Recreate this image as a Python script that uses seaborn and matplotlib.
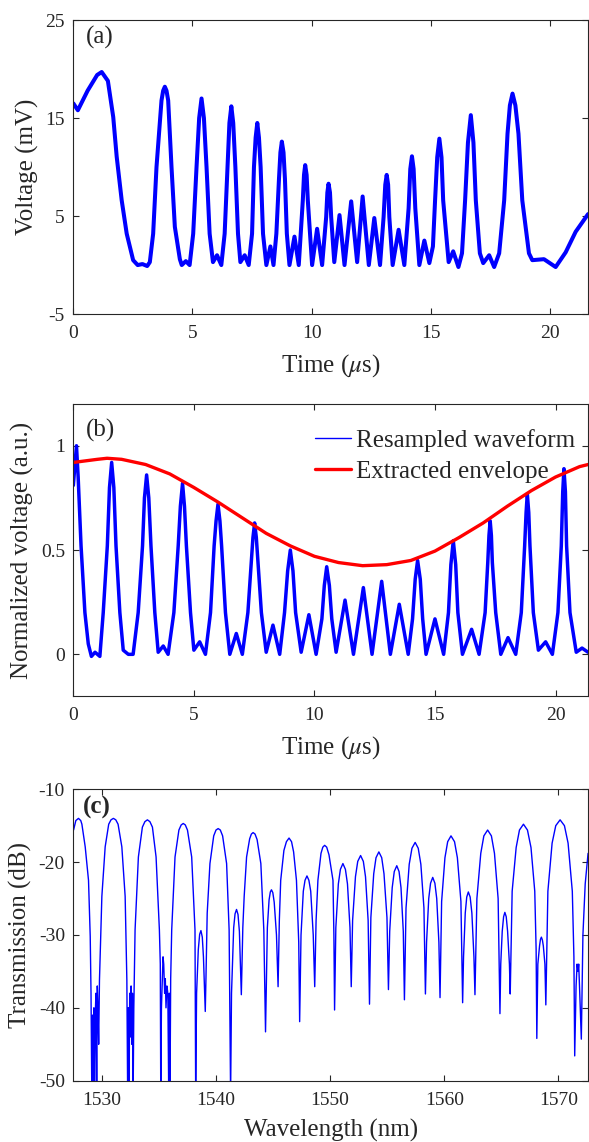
import numpy as np
import pandas as pd
import matplotlib
matplotlib.use("Agg")
import matplotlib.pyplot as plt
import seaborn as sns

# (a) raw waveform
t_a = [0.0, 0.19, 0.6, 1.0, 1.19, 1.45, 1.675, 1.82, 2.03, 2.24, 2.51, 2.7, 2.9, 3.1, 3.21,
       3.35, 3.49, 3.70, 3.84, 3.98, 4.12, 4.26, 4.47, 4.55, 4.72, 4.88, 5.03, 5.17, 5.38,
       5.59, 5.72, 5.86, 6.03, 6.21, 6.35, 6.47, 6.63, 6.80, 6.91, 7.01, 7.19, 7.36, 7.50,
       7.58, 7.72, 7.86, 7.96, 8.10, 8.27, 8.40, 8.52, 8.63, 8.75, 8.88, 8.96, 9.07, 9.28,
       9.46, 9.63, 9.73, 9.84, 10.02, 10.23, 10.44, 10.61, 10.71, 10.82, 10.95, 11.17, 11.38,
       11.66, 11.91, 12.14, 12.40, 12.63, 12.87, 13.02, 13.15, 13.26, 13.40, 13.65, 13.89,
       14.07, 14.21, 14.35, 14.52, 14.73, 14.94, 15.09, 15.18, 15.36, 15.52, 15.75, 15.94,
       16.16, 16.31, 16.44, 16.68, 16.89, 17.06, 17.20, 17.45, 17.66, 17.87, 18.08, 18.22,
       18.43, 18.68, 18.84, 19.12, 19.26, 19.75, 20.24, 20.66, 21.08, 21.6]
v_a = [16.5, 15.8, 17.8, 19.4, 19.7, 18.8, 15.1, 11.05, 6.6, 3.2, 0.5, 0.0, 0.1, -0.1, 0.3,
       3.2, 10.0, 16.8, 18.2, 16.8, 10.0, 3.9, 0.6, 0.0, 0.4, 0.0, 3.2, 10.0, 17.0,
       10.0, 3.2, 0.3, 1.0, 0.0, 3.2, 10.0, 16.2, 10.0, 3.2, 0.3, 1.0, 0.0, 3.2,
       10.0, 14.5, 10.0, 3.2, 0.0, 1.9, 0.0, 3.2, 8.8, 12.6, 8.8, 3.2, 0.0, 2.9,
       0.0, 6.6, 10.2, 6.6, 0.0, 3.7, 0.0, 4.9, 8.3, 4.9, 0.3, 5.1, 0.0,
       6.5, 0.3, 7.0, 0.0, 4.8, 0.0, 4.9, 9.2, 4.9, 0.0, 3.6, 0.0,
       5.8, 11.1, 5.8, 0.0, 2.5, 0.2, 1.9, 6.6, 12.9, 6.6, 0.3, 1.4,
       -0.2, 1.2, 6.6, 15.3, 6.6, 1.2, 0.2, 1.0, -0.2, 1.2, 6.6, 13.4,
       17.5, 13.4, 6.6, 1.2, 0.5, 0.6, -0.2, 1.3, 3.4, 5.2]
# extra points near the tops of the peaks
t_a_top = [3.77, 3.91, 5.28, 5.48, 6.55, 6.71, 7.65, 7.79, 8.69, 8.82, 9.68, 9.79,
           10.66, 10.77, 13.09, 13.21, 14.14, 14.28, 15.27, 15.45, 16.56, 16.79, 18.32, 18.55]
v_a_top = [17.8, 17.8, 15.0, 15.0, 14.5, 14.5, 13.0, 13.0, 11.5, 11.5, 9.2, 9.2,
           7.4, 7.4, 8.2, 8.2, 9.8, 9.8, 11.0, 11.0, 12.5, 12.5, 16.3, 16.3]

# (b) resampled waveform + envelope
t_b = [0.0, 0.13, 0.32, 0.48, 0.62, 0.75, 0.9, 1.1, 1.24, 1.41, 1.59, 1.77, 1.93, 2.07, 2.28,
       2.48, 2.69, 2.87, 3.04, 3.22, 3.38, 3.52, 3.73, 3.93, 4.17, 4.35, 4.53, 4.69, 4.86,
       5.0, 5.24, 5.48, 5.69, 5.84, 6.0, 6.15, 6.31, 6.49, 6.76, 7.01, 7.24, 7.38, 7.52,
       7.66, 7.80, 8.0, 8.28, 8.56, 8.76, 9.0, 9.22, 9.45, 9.77, 10.07, 10.31, 10.51, 10.72,
       10.9, 11.27, 11.62, 12.03, 12.39, 12.79, 13.15, 13.52, 13.89, 14.07, 14.28, 14.49,
       14.63, 15.0, 15.36, 15.56, 15.76, 15.95, 16.14, 16.52, 16.83, 17.08, 17.19, 17.29,
       17.38, 17.52, 17.73, 18.03, 18.35, 18.58, 18.72, 18.83, 18.94, 19.08, 19.29, 19.59,
       19.87, 20.1, 20.24, 20.35, 20.46, 20.6, 20.86, 21.1, 21.35]
v_b = [0.81, 1.0, 0.52, 0.2, 0.05, -0.01, 0.01, -0.01, 0.2, 0.52, 0.92, 0.52, 0.2, 0.02, 0.0,
       0.0, 0.2, 0.52, 0.86, 0.52, 0.2, 0.01, 0.04, 0.0, 0.2, 0.52, 0.82, 0.52, 0.2,
       0.02, 0.06, 0.0, 0.2, 0.52, 0.72, 0.52, 0.2, 0.0, 0.10, 0.0, 0.2, 0.44, 0.63,
       0.44, 0.2, 0.01, 0.14, 0.0, 0.2, 0.50, 0.2, 0.01, 0.19, 0.0, 0.17, 0.42, 0.17,
       0.01, 0.26, 0.0, 0.32, 0.0, 0.35, 0.0, 0.24, 0.0, 0.17, 0.45, 0.17,
       0.0, 0.17, 0.0, 0.2, 0.545, 0.2, 0.0, 0.12, 0.0, 0.2, 0.44, 0.64,
       0.44, 0.2, 0.0, 0.08, 0.0, 0.2, 0.52, 0.77, 0.52, 0.2, 0.02, 0.06,
       0.0, 0.2, 0.52, 0.89, 0.52, 0.2, 0.01, 0.03, 0.01]
t_b_top = [0.2, 1.50, 1.68, 2.95, 3.13, 4.44, 4.61, 5.92, 6.08, 7.45, 7.59, 8.89, 9.11,
           10.41, 10.62, 14.18, 14.39, 15.66, 15.86, 17.24, 17.34, 18.78, 18.89, 20.3, 20.41]
v_b_top = [0.85, 0.8, 0.8, 0.75, 0.75, 0.71, 0.71, 0.64, 0.64, 0.56, 0.56, 0.40, 0.40,
           0.33, 0.33, 0.36, 0.36, 0.43, 0.43, 0.57, 0.57, 0.68, 0.68, 0.78, 0.78]
t_env = [0, 1, 1.4, 2, 3, 4, 5, 6, 7, 8, 9, 10, 11, 12, 13, 14, 15, 16, 17, 18, 19, 20, 21, 21.35]
v_env = [0.92, 0.935, 0.94, 0.935, 0.91, 0.865, 0.80, 0.73, 0.655, 0.58, 0.52, 0.47, 0.44,
         0.425, 0.43, 0.45, 0.495, 0.56, 0.63, 0.71, 0.785, 0.85, 0.90, 0.91]

# (c) transmission spectrum
wl = [1527.52, 1527.95, 1528.25, 1528.54, 1528.83, 1528.98,
      1529.05, 1529.12, 1529.18, 1529.25, 1529.3, 1529.36, 1529.42, 1529.48, 1529.55, 1529.6, 1529.66, 1529.72,
      1529.79, 1530.0, 1530.29, 1530.6, 1531.01, 1531.42, 1531.75, 1532.04, 1532.19,
      1532.26, 1532.32, 1532.38, 1532.44, 1532.5, 1532.56, 1532.62, 1532.68, 1532.74, 1532.8,
      1532.91, 1533.2, 1533.55, 1533.99, 1534.43, 1534.75, 1535.04,
      1535.12, 1535.16, 1535.22, 1535.3, 1535.36, 1535.42, 1535.5, 1535.56, 1535.62, 1535.7,
      1535.78, 1535.86, 1535.92, 1535.97, 1536.03,
      1536.12, 1536.41, 1536.75, 1537.13, 1537.5, 1537.87, 1538.16, 1538.22,
      1538.3, 1538.45, 1538.68, 1538.9, 1539.06,
      1539.12, 1539.23, 1539.47, 1539.8, 1540.19, 1540.58, 1540.93, 1541.15, 1541.28,
      1541.36, 1541.55, 1541.8, 1542.05, 1542.22,
      1542.35, 1542.47, 1542.68, 1542.95, 1543.25, 1543.6, 1543.93, 1544.19, 1544.34,
      1544.5, 1544.65, 1544.86, 1545.1, 1545.3, 1545.44,
      1545.55, 1545.67, 1545.95, 1546.4, 1546.8, 1547.05, 1547.25, 1547.33,
      1547.45, 1547.65, 1547.97, 1548.3, 1548.52, 1548.65,
      1548.77, 1548.93, 1549.2, 1549.52, 1549.9, 1550.25, 1550.33, 1550.39,
      1550.5, 1550.72, 1551.12, 1551.52, 1551.74, 1551.85,
      1551.97, 1552.22, 1552.67, 1553.1, 1553.33, 1553.45,
      1553.57, 1553.82, 1554.27, 1554.72, 1554.98, 1555.11,
      1555.22, 1555.44, 1555.84, 1556.21, 1556.41, 1556.51,
      1556.65, 1556.93, 1557.17, 1557.45, 1557.72, 1557.95, 1558.22, 1558.35,
      1558.45, 1558.64, 1558.99, 1559.34, 1559.53, 1559.63,
      1559.77, 1560.06, 1560.3, 1560.59, 1560.9, 1561.15, 1561.46, 1561.61,
      1561.69, 1561.84, 1562.11, 1562.42, 1562.6, 1562.69,
      1562.86, 1563.2, 1563.47, 1563.8, 1564.13, 1564.4, 1564.72, 1564.88,
      1564.95, 1565.08, 1565.31, 1565.55, 1565.71, 1565.78,
      1565.95, 1566.3, 1566.59, 1566.94, 1567.29, 1567.6, 1567.93, 1568.05, 1568.11,
      1568.2, 1568.35, 1568.51, 1568.68, 1568.82, 1568.9,
      1569.08, 1569.45, 1569.77, 1570.15, 1570.53, 1570.85, 1571.22, 1571.36, 1571.43,
      1571.55, 1571.64, 1571.72, 1571.78, 1571.85, 1572.01,
      1572.15, 1572.35, 1572.6]
trans_db = [-15.6, -14.0, -14.8, -17.9, -22.5, -30.2,
            -38, -52, -41, -52, -40, -52, -41, -38, -52, -37, -40, -45,
            -36.2, -24.7, -17.9, -14.8, -14.0, -14.8, -17.9, -24.7, -36.2,
            -52, -40, -52, -38, -44, -37, -45, -38, -52, -40,
            -29.3, -19.3, -15.2, -14.2, -15.2, -19.3, -29.3,
            -34, -52, -40, -36, -33, -34, -38, -36, -40, -37,
            -38, -52, -38, -52, -36,
            -29.3, -19.3, -15.6, -14.7, -15.6, -19.3, -29.3, -52,
            -38, -32, -29.4, -33, -40.5,
            -36, -27, -20.2, -16.4, -15.4, -16.4, -20.2, -29.3, -52,
            -38, -29, -26.5, -29.5, -38.2,
            -29, -24.7, -19.3, -16.8, -15.95, -16.9, -20.2, -29.3, -43.3,
            -29, -25.2, -23.8, -25.5, -30, -37.1,
            -28, -22.5, -18.4, -16.7, -18.6, -22.5, -31, -41.9,
            -30, -24, -21.9, -24, -30, -37.1,
            -28, -22.5, -18.8, -17.7, -19, -22.5, -30, -40.3,
            -29, -23, -20.2, -23, -29, -37.1,
            -28, -22, -19.1, -22, -28, -39.5,
            -27.6, -21.6, -18.6, -21.6, -27.6, -37.5,
            -29.5, -23.5, -20.5, -23.5, -29.5, -38.9,
            -26.3, -20.3, -18.1, -17.3, -18.1, -20.3, -26.3, -38.1,
            -31, -25, -22.1, -25, -31, -38.6,
            -25.4, -19.4, -17.2, -16.4, -17.2, -19.4, -25.4, -39.3,
            -33, -27, -24.1, -27, -33, -38.2,
            -25, -18.8, -16.4, -15.6, -16.4, -18.8, -25, -40.8,
            -34, -29.5, -26.9, -29.5, -34, -38.1,
            -24, -18, -15.6, -14.8, -15.6, -18, -24, -32, -44.2,
            -34, -31.5, -30.3, -31.5, -34, -39.6,
            -24, -17.4, -15.0, -14.2, -15.0, -17.4, -24, -33, -46.6,
            -37, -34, -35, -34, -37, -44.3,
            -30, -23, -18.8]
# extra points near the lobe tops
wl_top = [1527.72, 1528.15, 1530.8, 1531.22, 1533.77, 1534.21, 1536.95, 1537.31,
          1540.0, 1540.38, 1543.1, 1543.42, 1546.17, 1546.62, 1549.36, 1549.7,
          1538.57, 1538.8, 1541.67, 1541.93, 1544.76, 1544.98, 1547.8, 1548.14,
          1550.9, 1551.34, 1552.42, 1552.91, 1554.02, 1554.52, 1555.62, 1556.04,
          1558.8, 1559.18, 1561.97, 1562.27, 1565.2, 1565.43, 1568.43, 1568.6]
db_top = [-14.3, -14.3, -14.2, -14.2, -14.45, -14.45, -14.9, -14.9,
          -15.6, -15.6, -16.15, -16.15, -17.2, -17.2, -17.95, -17.95,
          -29.9, -30.3, -27.1, -27.2, -24.1, -24.2, -22.5, -22.5,
          -21.0, -21.0, -19.9, -19.9, -19.4, -19.4, -21.3, -21.3,
          -22.9, -22.9, -24.8, -24.8, -27.5, -27.5, -30.6, -30.7]


def merged(x, y, x2, y2, xn, yn):
    df = pd.concat([pd.DataFrame({xn: x, yn: y}), pd.DataFrame({xn: x2, yn: y2})])
    return df.sort_values(xn).reset_index(drop=True)


df_a = merged(t_a, v_a, t_a_top, v_a_top, "time", "voltage")
df_b = merged(t_b, v_b, t_b_top, v_b_top, "time", "norm")
df_c = merged(wl, trans_db, wl_top, db_top, "wavelength", "trans")

sns.set_theme(style="ticks")
plt.rcParams["font.family"] = ["Liberation Serif", "DejaVu Serif"]
plt.rcParams["mathtext.fontset"] = "stix"
plt.rcParams["axes.unicode_minus"] = False
plt.rcParams["xtick.direction"] = "in"
plt.rcParams["ytick.direction"] = "in"
plt.rcParams["xtick.top"] = True
plt.rcParams["ytick.right"] = True

BLUE = "#0000ff"
RED = "#ff0000"
TICK_FS = 14
LAB_FS = 18

fig = plt.figure(figsize=(5.89, 11.42), dpi=100)
left, width = 0.1245, 0.8739
ax1 = fig.add_axes([left, 0.7250, width, 0.2574])
ax2 = fig.add_axes([left, 0.3905, width, 0.2557])
ax3 = fig.add_axes([left, 0.0537, width, 0.2552])

# (a)
sns.lineplot(data=df_a, x="time", y="voltage", ax=ax1, color=BLUE, lw=2.9,
             sort=False, estimator=None, solid_joinstyle="round")
ax1.set_xlim(0, 21.6)
ax1.set_ylim(-5, 25)
ax1.set_yticks([-5, 5, 15, 25])
ax1.set_xticks([0, 5, 10, 15, 20])
ax1.set_xlabel(r"Time ($\mu$s)", fontsize=LAB_FS)
ax1.set_ylabel("Voltage (mV)", fontsize=LAB_FS)
ax1.text(0.025, 0.94, "(a)", transform=ax1.transAxes, fontsize=LAB_FS, va="center")

# (b)
sns.lineplot(data=df_b, x="time", y="norm", ax=ax2, color=BLUE, lw=2.5, sort=False,
             estimator=None, solid_joinstyle="round", label="Resampled waveform")
sns.lineplot(x=t_env, y=v_env, ax=ax2, color=RED, lw=2.4, sort=False, estimator=None,
             label="Extracted envelope")
ax2.set_xlim(0, 21.35)
ax2.set_ylim(-0.2, 1.2)
ax2.set_yticks([0, 0.5, 1])
ax2.set_yticklabels(["0", "0.5", "1"])
ax2.set_xticks([0, 5, 10, 15, 20])
ax2.set_xlabel(r"Time ($\mu$s)", fontsize=LAB_FS)
ax2.set_ylabel("Normalized voltage (a.u.)", fontsize=LAB_FS)
ax2.text(0.025, 0.91, "(b)", transform=ax2.transAxes, fontsize=LAB_FS, va="center")
leg = ax2.legend(loc="upper right", bbox_to_anchor=(0.975, 0.915), frameon=False,
                 fontsize=18, handlelength=1.45, handletextpad=0.2, labelspacing=0.35,
                 borderaxespad=0, borderpad=0)
leg.get_lines()[0].set_linewidth(1.0)
leg.get_lines()[1].set_linewidth(2.4)

# (c)
sns.lineplot(data=df_c, x="wavelength", y="trans", ax=ax3, color=BLUE, lw=1.0,
             sort=False, estimator=None)
ax3.set_xlim(1527.5, 1572.6)
ax3.set_ylim(-50, -10)
ax3.set_yticks([-50, -40, -30, -20, -10])
ax3.set_xticks([1530, 1540, 1550, 1560, 1570])
ax3.set_xlabel("Wavelength (nm)", fontsize=LAB_FS)
ax3.set_ylabel("Transmission (dB)", fontsize=LAB_FS)
ax3.text(0.018, 0.937, "(c)", transform=ax3.transAxes, fontsize=LAB_FS, va="center",
         fontweight="bold")

for ax in (ax1, ax2, ax3):
    ax.tick_params(labelsize=TICK_FS, length=4, width=0.8, colors="#262626")
    ax.tick_params(axis="x", pad=8)
    ax.tick_params(axis="y", pad=6)
    for s in ax.spines.values():
        s.set_linewidth(0.8)
        s.set_color("#262626")
    ax.xaxis.labelpad = 7
    ax.yaxis.labelpad = 5

fig.savefig("out.png", dpi=100)
